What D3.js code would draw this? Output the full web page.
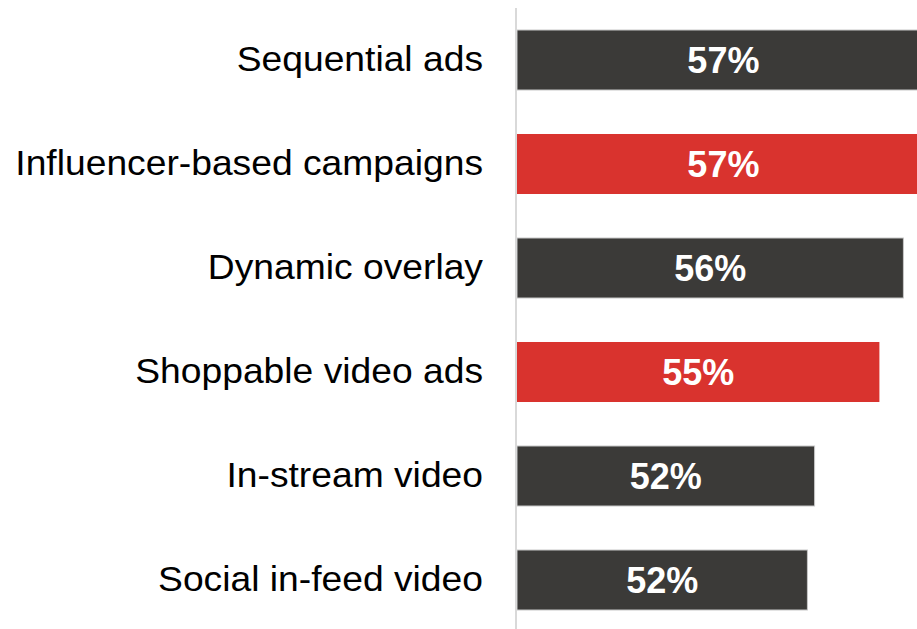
<!DOCTYPE html>
<html><head><meta charset="utf-8">
<script src="https://cdn.jsdelivr.net/npm/d3@7"></script>
<style>html,body{margin:0;padding:0;background:#fff;}svg{display:block;}</style>
</head><body>
<svg id="c" width="917" height="629"></svg>
<script>
const categories = ["Sequential ads","Influencer-based campaigns","Dynamic overlay","Shoppable video ads","In-stream video","Social in-feed video"];
const values = [57.2, 57.2, 56.1, 55.1, 52.4, 52.1];
const labels = ["57%","57%","56%","55%","52%","52%"];
const highlight = [false, true, false, true, false, false];

const svg = d3.select("#c");
const x = d3.scaleLinear().domain([40, 57]).range([517, 925]);
const y = d3.scaleBand().domain(categories).range([8, 632]).paddingInner(0.423).paddingOuter(0.2115);

const g = svg.append("g");
g.selectAll("rect").data(categories).join("rect")
  .attr("x", x(40))
  .attr("y", d => y(d))
  .attr("width", (d,i) => x(values[i]) - x(40))
  .attr("height", y.bandwidth())
  .attr("fill", (d,i) => highlight[i] ? "#d9332e" : "#3b3a38")
  .attr("stroke", (d,i) => highlight[i] ? "none" : "#c8c8c8")
  .attr("stroke-width", 1);

svg.append("line").attr("x1", 516).attr("x2", 516).attr("y1", 8).attr("y2", 629)
  .attr("stroke", "#d9d9d9").attr("stroke-width", 2);

svg.selectAll("text.cat").data(categories).join("text").attr("class","cat")
  .attr("transform", d => `translate(483,${y(d) + y.bandwidth()/2}) scale(1.064,1)`)
  .attr("dy", "0.305em")
  .attr("text-anchor", "end")
  .style("font-family", "Liberation Sans, Arial, sans-serif")
  .style("font-size", "35px")
  .attr("fill", "#000")
  .text(d => d);

svg.selectAll("text.val").data(categories).join("text").attr("class","val")
  .attr("x", (d,i) => (x(40) + x(values[i]))/2)
  .attr("y", d => y(d) + y.bandwidth()/2)
  .attr("dy", "0.37em")
  .attr("text-anchor", "middle")
  .style("font-family", "Liberation Sans, Arial, sans-serif")
  .style("font-size", "36px").style("font-weight", "bold")
  .attr("fill", "#fff")
  .text((d,i) => labels[i]);
</script>
</body></html>
